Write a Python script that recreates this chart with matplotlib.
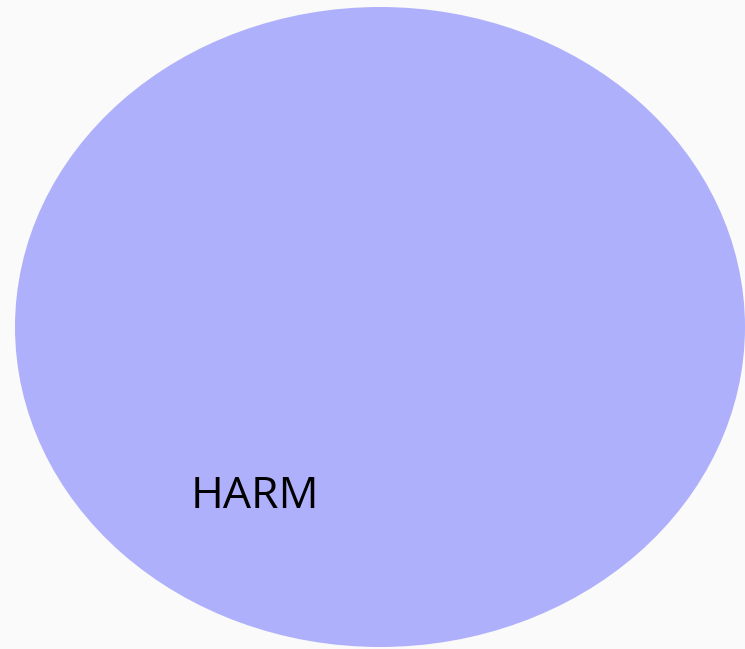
import matplotlib.pyplot as plt
from matplotlib.patches import Ellipse

# single-set venn diagram
set_labels = ["HARM"]
set_sizes = [1]
set_colors = ["#afb0fb"]

W, H = 745, 649

fig = plt.figure(figsize=(W / 100, H / 100), dpi=100, facecolor="#fafafa")
ax = fig.add_axes([0, 0, 1, 1])
ax.set_facecolor("#fafafa")
ax.set_xlim(0, W)
ax.set_ylim(H, 0)
ax.axis("off")

for label, size, color in zip(set_labels, set_sizes, set_colors):
    w = 730 * size ** 0.5
    h = 640 * size ** 0.5
    ax.add_patch(Ellipse((380, 327), w, h, facecolor=color, edgecolor="none"))
    ax.text(255, 497, label, fontsize=32, family="Open Sans",
            ha="center", va="center", color="black")

fig.savefig("out.png", dpi=100, facecolor=fig.get_facecolor())
